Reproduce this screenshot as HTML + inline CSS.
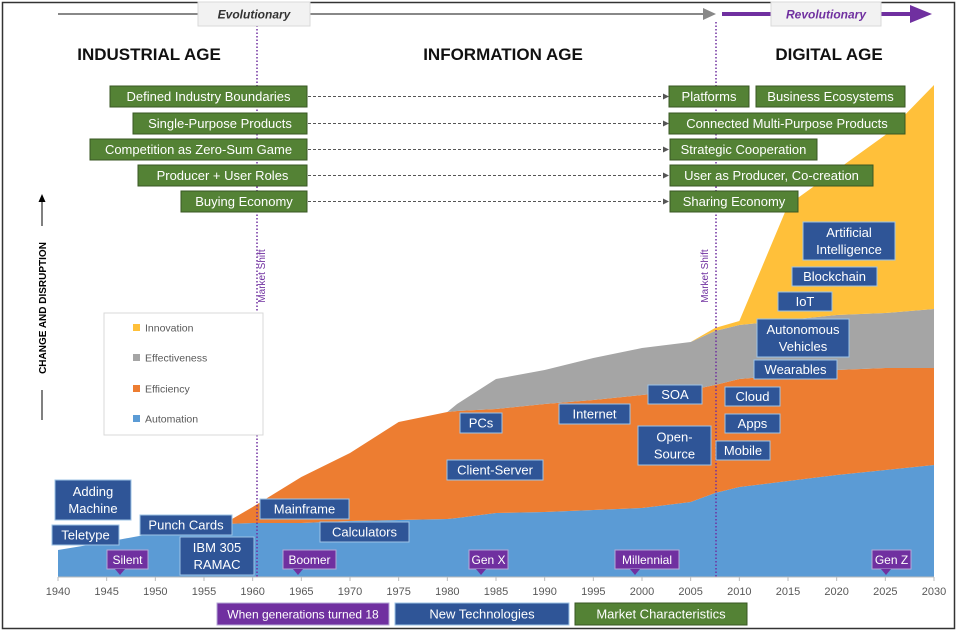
<!DOCTYPE html>
<html><head><meta charset="utf-8"><style>
body{margin:0;background:#fff;}
svg{display:block;font-family:"Liberation Sans",sans-serif;}
</style></head><body>
<svg id="c" width="958" height="632" viewBox="0 0 958 632">
<rect x="2.5" y="2.5" width="952" height="626" fill="#fff" stroke="#333" stroke-width="1.5"/>
<g id="areas"></g>
<g id="axis"></g>
<g id="over"></g>
</svg>
<script>
const years=[1940,1945,1950,1955,1957,1960,1965,1970,1975,1980,1981,1985,1990,1995,2000,2005,2007.5,2010,2015,2020,2025,2030];
const automation=[27,35,44,50,53,54,54,56,57,58,59,64,65,67,69,75,84,90,96,102,107,112];
const efficiency=[0,0,0,0,0,16,46,68,98,107,107,104,108,110,113,112,108,108,106,105,102,97];
const effectiveness=[0,0,0,0,0,0,0,0,0,0,7,30,34,42,47,48,54,54,55,55,55,59];
const innovation=[0,0,0,0,0,0,0,0,0,0,0,0,0,0,0,0,3,4,115,145,178,224];
const tickYears=[1940,1945,1950,1955,1960,1965,1970,1975,1980,1985,1990,1995,2000,2005,2010,2015,2020,2025,2030];
const seriesNames=['automation','efficiency','effectiveness','innovation'];
const seriesColors=['#5b9bd5','#ed7d31','#a5a5a5','#ffc03a'];
const x=y=>58+(y-1940)*(876/90);
const yv=v=>577-v;
const NS='http://www.w3.org/2000/svg';
function mk(tag,attrs,parent){const e=document.createElementNS(NS,tag);for(const k in attrs)e.setAttribute(k,attrs[k]);parent.appendChild(e);return e;}
const svg=document.getElementById('c');
const areas=document.getElementById('areas');
const all=[automation,efficiency,effectiveness,innovation];
let base=years.map(()=>0);
all.forEach((s,i)=>{
  const top=base.map((b,j)=>b+s[j]);
  let d='M'+years.map((yr,j)=>x(yr)+','+yv(top[j])).join(' L');
  for(let j=years.length-1;j>=0;j--)d+=' L'+x(years[j])+','+yv(base[j]);
  const p=mk('path',{d:d+'Z',fill:seriesColors[i]},areas);
  
  
  base=top;
});
const ax=document.getElementById('axis');
mk('line',{x1:58,x2:934,y1:577,y2:577,stroke:'#bbb'},ax);
tickYears.forEach(t=>{
  mk('line',{x1:x(t),x2:x(t),y1:577,y2:581,stroke:'#bbb'},ax);
  const tx=mk('text',{x:x(t),y:595,'text-anchor':'middle','font-size':11,fill:'#595959'},ax);
  tx.textContent=t;
  
  
});
const ov=document.getElementById('over');
function box(x0,y0,w,h,fill,stroke,lines,name,fs,tc){
  const g=mk('g',{},ov);
  
  
  mk('rect',{x:x0,y:y0,width:w,height:h,fill:fill,stroke:stroke,'stroke-width':1},g);
  const lh=fs*1.3;const sy=y0+h/2-(lines.length-1)*lh/2+fs*0.36;
  lines.forEach((l,i)=>{const t=mk('text',{x:x0+w/2,y:sy+i*lh,'text-anchor':'middle','font-size':fs,fill:tc||'#fff'},g);t.textContent=l;});
  return g;
}
// market shift lines
[[257,265],[716,708]].forEach(([lx,tx])=>{
  const l=mk('line',{x1:lx,x2:lx,y1:22,y2:577,stroke:'#7030a0','stroke-width':1.5,'stroke-dasharray':'1.5,2'},ov);
  
  const t=mk('text',{x:tx,y:276,'text-anchor':'middle','font-size':10,fill:'#7030a0',transform:`rotate(-90 ${tx} 276)`},ov);
  t.textContent='Market Shift';
});
// top arrows
mk('line',{x1:58,x2:705,y1:14,y2:14,stroke:'#888','stroke-width':2},ov);
mk('polygon',{points:'703,8 716,14 703,20',fill:'#888'},ov);
mk('line',{x1:722,x2:912,y1:14,y2:14,stroke:'#7030a0','stroke-width':4},ov);
mk('polygon',{points:'910,5 932,14 910,23',fill:'#7030a0'},ov);
const ev=box(198,2,112,24,'#f2f2f2','#d9d9d9',['Evolutionary'],'evolutionary-label',12,'#333');
ev.querySelector('text').setAttribute('font-style','italic');ev.querySelector('text').setAttribute('font-weight','bold');
const rv=box(771,2,110,24,'#f2f2f2','#d9d9d9',['Revolutionary'],'revolutionary-label',12,'#7030a0');
rv.querySelector('text').setAttribute('font-style','italic');rv.querySelector('text').setAttribute('font-weight','bold');
// age headers
[['INDUSTRIAL AGE',149],['INFORMATION AGE',503],['DIGITAL AGE',829]].forEach(([s,cx])=>{
  const t=mk('text',{x:cx,y:60,'text-anchor':'middle','font-size':17,'font-weight':'bold',fill:'#111'},ov);
  t.textContent=s;
});
// market characteristics
const G='#548235',GS='#385723';
const left=[['Defined Industry Boundaries',110,86],['Single-Purpose Products',133,113],['Competition as Zero-Sum Game',90,139],['Producer + User Roles',138,165],['Buying Economy',181,191]];
left.forEach(([s,x0,y0])=>{
  box(x0,y0,307-x0,21,G,GS,[s],'old-characteristic',13);
  const l=mk('line',{x1:308,x2:664,y1:y0+10.5,y2:y0+10.5,stroke:'#555','stroke-dasharray':'3,2'},ov);
  
  mk('polygon',{points:`663,${y0+7.5} 669,${y0+10.5} 663,${y0+13.5}`,fill:'#555'},ov);
});
[['Platforms',669,86,80],['Business Ecosystems',756,86,149],['Connected Multi-Purpose Products',669,113,236],['Strategic Cooperation',670,139,147],['User as Producer, Co-creation',670,165,203],['Sharing Economy',670,191,128]].forEach(([s,x0,y0,w])=>box(x0,y0,w,21,G,GS,[s],'new-characteristic',13));
// technologies
const B='#2f5597',BS='#9dc3e6';
[[['Adding','Machine'],55,480,76,40],[['Teletype'],52,525,67,20],[['Punch Cards'],140,515,92,20],[['IBM 305','RAMAC'],180,537,74,38],[['Mainframe'],260,499,89,20],[['Calculators'],320,522,89,20],[['PCs'],460,413,42,20],[['Client-Server'],447,460,96,20],[['Internet'],559,404,71,20],[['SOA'],648,385,54,19],[['Open-','Source'],638,426,73,39],[['Mobile'],716,441,54,19],[['Cloud'],725,387,55,19],[['Apps'],725,414,55,19],[['Wearables'],754,360,83,19],[['Autonomous','Vehicles'],757,319,92,38],[['IoT'],778,292,54,19],[['Blockchain'],792,267,85,19],[['Artificial','Intelligence'],803,222,92,38]]
.forEach(([ls,x0,y0,w,h])=>box(x0,y0,w,h,B,BS,ls,'technology-'+ls.join('-').toLowerCase(),13));
// generations
const P='#7030a0';
[['Silent',107,41,120],['Boomer',283,53,298],['Gen X',469,39,481],['Millennial',615,64,635],['Gen Z',872,39,886]].forEach(([s,x0,w,px])=>{
  box(x0,550,w,19,P,'#b4a7d6',[s],'generation-'+s.toLowerCase(),12);
  mk('polygon',{points:`${px-5},569 ${px+5},569 ${px},575`,fill:P},ov);
});
// bottom legend
box(217,603,172,22,P,'#b4a7d6',['When generations turned 18'],'legend-generations',12);
box(395,603,174,22,B,BS,['New Technologies'],'legend-technologies',13);
box(575,603,172,22,G,GS,['Market Characteristics'],'legend-characteristics',13);
// series legend
const lg=mk('g',{},ov);
mk('rect',{x:104,y:313,width:159,height:122,fill:'#fff',stroke:'#d9d9d9'},lg);
[['Innovation',3,328],['Effectiveness',2,358],['Efficiency',1,389],['Automation',0,419]].forEach(([s,i,yy])=>{
  mk('rect',{x:133,y:yy-4,width:7,height:7,fill:seriesColors[i]},lg);
  const t=mk('text',{x:145,y:yy+3.5,'font-size':10.5,fill:'#595959'},lg);t.textContent=s;
  
});
// y-axis title
mk('line',{x1:42,x2:42,y1:420,y2:390,stroke:'#000'},ov);
mk('line',{x1:42,x2:42,y1:226,y2:200,stroke:'#000'},ov);
mk('polygon',{points:'38.5,202 42,194 45.5,202',fill:'#000'},ov);
const yt=mk('text',{x:46,y:308,'text-anchor':'middle','font-size':10,'font-weight':'bold',fill:'#000',transform:'rotate(-90 46 308)'},ov);
yt.textContent='CHANGE AND DISRUPTION';
</script>
</body></html>
